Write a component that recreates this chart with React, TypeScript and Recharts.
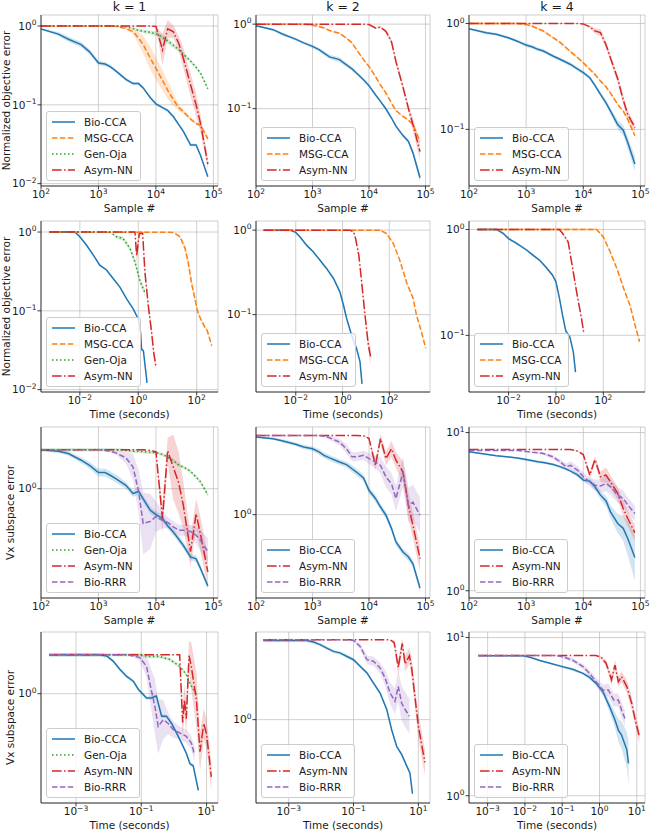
import React from 'react';
import { ComposedChart, Line, Area, XAxis, YAxis, CartesianGrid, Legend } from 'recharts';

const FONT = '"DejaVu Sans", "Liberation Sans", sans-serif';

// ---------- sample grid (rows 1 & 3) ----------
const SAMPLES = [100, 200, 300, 500, 700, 1000, 1300, 1600, 2000, 3000, 4000, 5000, 6000, 8000, 10000, 13000, 16000, 20000, 25000, 30000, 40000, 50000, 60000, 80000];
const SAMPLE_TICKS = [100, 1000, 10000, 100000];

// ---------- row 1 : objective vs samples ----------
const r1c1Bio = [0.92, 0.79, 0.68, 0.58, 0.47, 0.34, 0.33, 0.305, 0.27, 0.21, 0.186, 0.186, 0.164, 0.123, 0.103, 0.092, 0.085, 0.071, 0.056, 0.046, 0.031, 0.031, 0.0226, 0.0122];
const r1c1BioSp = [1.02, 1.06, 1.08, 1.08, 1.08, 1.07, 1.06, 1.05, 1.05, 1.05, 1.05, 1.05, 1.05, 1.04, 1.04, 1.04, 1.04, 1.04, 1.04, 1.04, 1.04, 1.04, 1.04, 1.04];
const r1c1Msg = [1, 1, 1, 1, 1, 1, 1, 1, 0.99, 0.93, 0.85, 0.7, 0.58, 0.39, 0.29, 0.205, 0.153, 0.117, 0.092, 0.082, 0.066, 0.058, 0.055, 0.037];
const r1c1MsgSp = [1, 1, 1, 1, 1, 1, 1, 1, 1.01, 1.03, 1.08, 1.2, 1.3, 1.4, 1.4, 1.35, 1.3, 1.2, 1.1, 1.07, 1.05, 1.05, 1.05, 1.08];
const r1c1Oja = [1, 1, 1, 1, 1, 1, 1, 1, 1, 0.98, 0.93, 0.88, 0.86, 0.83, 0.8, 0.72, 0.65, 0.57, 0.5, 0.44, 0.36, 0.3, 0.25, 0.16];
const r1c1OjaSp = [1, 1, 1, 1, 1, 1, 1, 1, 1, 1.01, 1.03, 1.04, 1.05, 1.06, 1.07, 1.08, 1.08, 1.08, 1.07, 1.06, 1.05, 1.05, 1.05, 1.05];
const r1c1Asym = [1, 1, 1, 1, 1, 1, 1, 1, 1, 1, 1, 1, 1, 1, 0.99, 0.5, 0.92, 0.85, 0.6, 0.39, 0.18, 0.1, 0.057, 0.0177];
const r1c1AsymSp = [1, 1, 1, 1, 1, 1, 1, 1, 1, 1, 1, 1, 1, 1, 1.01, 1.6, 1.3, 1.2, 1.25, 1.35, 1.4, 1.4, 1.3, 1.2];

const r1c2Bio = [0.955, 0.86, 0.76, 0.665, 0.6, 0.545, 0.5, 0.455, 0.41, 0.38, 0.33, 0.295, 0.264, 0.22, 0.187, 0.146, 0.122, 0.099, 0.0775, 0.062, 0.048, 0.041, 0.03, 0.0152];
const r1c2BioSp = [1.02, 1.03, 1.04, 1.04, 1.04, 1.05, 1.05, 1.06, 1.06, 1.07, 1.06, 1.05, 1.05, 1.04, 1.04, 1.04, 1.04, 1.04, 1.04, 1.04, 1.05, 1.05, 1.08, 1.12];
const r1c2Msg = [1, 1, 1, 1, 1, 0.97, 0.94, 0.9, 0.84, 0.78, 0.68, 0.6, 0.5, 0.38, 0.316, 0.24, 0.19, 0.153, 0.116, 0.095, 0.081, 0.073, 0.065, 0.041];
const r1c2Asym = [1, 1, 1, 1, 1, 1, 1, 1, 1, 1, 1, 1, 1, 1, 0.99, 0.9, 0.92, 0.82, 0.62, 0.36, 0.18, 0.1, 0.065, 0.031];
const r1c2AsymSp = [1, 1, 1, 1, 1, 1, 1, 1, 1, 1, 1, 1, 1, 1, 1, 1.03, 1.03, 1.05, 1.08, 1.1, 1.1, 1.12, 1.2, 1.25];

const r1c3Bio = [0.89, 0.816, 0.79, 0.73, 0.68, 0.625, 0.6, 0.57, 0.55, 0.49, 0.457, 0.43, 0.41, 0.37, 0.343, 0.307, 0.26, 0.214, 0.178, 0.149, 0.111, 0.098, 0.075, 0.047];
const r1c3BioSp = [1.02, 1.03, 1.03, 1.03, 1.03, 1.04, 1.04, 1.04, 1.04, 1.04, 1.04, 1.04, 1.04, 1.04, 1.04, 1.04, 1.05, 1.05, 1.06, 1.07, 1.1, 1.12, 1.14, 1.18];
const r1c3Msg = [1, 1, 1, 1, 1, 0.98, 0.94, 0.89, 0.85, 0.73, 0.66, 0.59, 0.54, 0.475, 0.425, 0.37, 0.33, 0.286, 0.252, 0.22, 0.172, 0.149, 0.124, 0.087];
const r1c3Asym = [1, 1, 1, 1, 1, 1, 1, 1, 1, 1, 1, 1, 1, 1, 0.99, 0.93, 0.85, 0.82, 0.63, 0.47, 0.3, 0.19, 0.138, 0.104];
const r1c3AsymSp = [1, 1, 1, 1, 1, 1, 1, 1, 1, 1, 1, 1, 1, 1, 1, 1.03, 1.06, 1.08, 1.08, 1.08, 1.1, 1.1, 1.1, 1.1];

// ---------- row 2 : objective vs time ----------
const r2c1BioT = [9e-4, 6.7e-3, 0.01, 0.017, 0.029, 0.048, 0.082, 0.14, 0.235, 0.4, 0.67, 1.0, 1.2, 1.3, 1.5, 2.0];
const r2c1BioY = [1.0, 1.0, 0.87, 0.68, 0.51, 0.38, 0.33, 0.255, 0.2, 0.142, 0.106, 0.079, 0.053, 0.0325, 0.031, 0.0122];
const r2c1MsgT = [9e-4, 15.8, 27, 40, 52, 66, 88, 110, 146, 190, 230, 330];
const r2c1MsgY = [1.0, 0.99, 0.87, 0.62, 0.4, 0.23, 0.14, 0.095, 0.075, 0.062, 0.056, 0.036];
const r2c1MsgSp = [1, 1, 1.05, 1.1, 1.15, 1.15, 1.12, 1.08, 1.06, 1.05, 1.05, 1.05];
const r2c1OjaT = [9e-4, 0.107, 0.18, 0.3, 0.52, 0.77, 1.14, 1.7];
const r2c1OjaY = [1.0, 1.0, 0.87, 0.83, 0.62, 0.42, 0.24, 0.17];
const r2c1OjaSp = [1, 1, 1.05, 1.06, 1.08, 1.1, 1.1, 1.1];
const r2c1AsymT = [9e-4, 0.77, 0.88, 1.08, 1.41, 1.69, 2.2, 2.87, 3.4, 4.0];
const r2c1AsymY = [1.0, 1.0, 0.5, 0.95, 0.97, 0.31, 0.117, 0.053, 0.029, 0.02];
const r2c1AsymSp = [1, 1, 1.3, 1.1, 1.05, 1.15, 1.15, 1.15, 1.15, 1.15];

const r2c2BioT = [4.2e-4, 5.7e-3, 0.01, 0.0153, 0.0295, 0.057, 0.109, 0.21, 0.405, 0.77, 1.1, 1.5, 2.45, 4.0, 5.6, 6.8];
const r2c2BioY = [1.0, 1.0, 0.94, 0.83, 0.66, 0.55, 0.44, 0.35, 0.27, 0.186, 0.129, 0.09, 0.057, 0.0395, 0.0276, 0.0152];
const r2c2MsgT = [4.2e-4, 40, 77, 150, 280, 550, 1050, 1460, 2400, 3600];
const r2c2MsgY = [1.0, 1.0, 0.91, 0.69, 0.44, 0.24, 0.155, 0.098, 0.062, 0.04];
const r2c2AsymT = [4.2e-4, 2.1, 3.0, 3.6, 5.0, 6.6, 9.1, 12.5, 15.8];
const r2c2AsymY = [1.0, 1.0, 0.95, 0.8, 0.5, 0.24, 0.1, 0.045, 0.032];
const r2c2AsymSp = [1, 1, 1.03, 1.05, 1.08, 1.1, 1.12, 1.2, 1.3];

const r2c3BioT = [4.8e-4, 3.1e-3, 0.0059, 0.01, 0.0218, 0.0577, 0.11, 0.21, 0.38, 0.72, 1.0, 1.38, 1.9, 2.6, 3.9, 5.4, 6.7];
const r2c3BioY = [1.0, 1.0, 0.92, 0.82, 0.74, 0.64, 0.57, 0.51, 0.44, 0.37, 0.32, 0.23, 0.155, 0.11, 0.096, 0.07, 0.045];
const r2c3MsgT = [4.8e-4, 52, 100, 192, 370, 710, 1360, 2200, 3400];
const r2c3MsgY = [1.0, 1.0, 0.85, 0.62, 0.43, 0.28, 0.19, 0.124, 0.087];
const r2c3AsymT = [4.8e-4, 1.38, 1.9, 3.3, 4.6, 7.4, 12, 15.2];
const r2c3AsymY = [1.0, 1.0, 0.92, 0.76, 0.49, 0.26, 0.144, 0.104];
const r2c3AsymSp = [1, 1, 1.03, 1.05, 1.06, 1.06, 1.06, 1.06];

// ---------- row 3 : Vx subspace error vs samples ----------
const r3c1Bio = [1.95, 1.9, 1.83, 1.63, 1.49, 1.32, 1.32, 1.26, 1.19, 1.06, 0.92, 0.955, 0.84, 0.69, 0.64, 0.6, 0.53, 0.475, 0.42, 0.377, 0.31, 0.3, 0.253, 0.188];
const r3c1BioSp = [1.02, 1.03, 1.04, 1.05, 1.06, 1.07, 1.07, 1.07, 1.07, 1.06, 1.06, 1.06, 1.06, 1.06, 1.06, 1.06, 1.06, 1.06, 1.06, 1.06, 1.06, 1.06, 1.06, 1.06];
const r3c1Oja = [1.95, 1.95, 1.95, 1.95, 1.95, 1.95, 1.95, 1.95, 1.95, 1.93, 1.9, 1.9, 1.89, 1.87, 1.86, 1.8, 1.72, 1.62, 1.5, 1.45, 1.35, 1.22, 1.12, 0.9];
const r3c1Asym = [1.95, 1.95, 1.95, 1.95, 1.95, 1.95, 1.95, 1.95, 1.95, 1.95, 1.95, 1.95, 1.95, 1.93, 1.88, 0.6, 1.92, 1.45, 1.1, 0.75, 0.34, 0.65, 0.45, 0.24];
const r3c1AsymSp = [1, 1, 1, 1, 1, 1, 1, 1, 1, 1, 1, 1, 1, 1, 1.02, 1.3, 1.25, 1.75, 1.7, 1.5, 1.3, 1.3, 1.35, 1.3];
const r3c1Rrr = [1.95, 1.95, 1.95, 1.95, 1.95, 1.95, 1.93, 1.9, 1.85, 1.7, 1.45, 0.95, 0.55, 0.57, 0.62, 0.58, 0.56, 0.52, 0.49, 0.49, 0.48, 0.45, 0.41, 0.34];
const r3c1RrrSp = [1, 1, 1, 1, 1, 1, 1.01, 1.02, 1.03, 1.1, 1.25, 1.45, 1.7, 1.6, 1.3, 1.15, 1.1, 1.1, 1.1, 1.1, 1.12, 1.15, 1.2, 1.25];

const r3c2Bio = [3.8, 3.69, 3.55, 3.35, 3.2, 3.1, 2.94, 2.77, 2.65, 2.47, 2.36, 2.2, 2.08, 1.88, 1.52, 1.32, 1.14, 0.99, 0.79, 0.625, 0.526, 0.483, 0.43, 0.283];
const r3c2BioSp = [1.02, 1.02, 1.03, 1.03, 1.04, 1.04, 1.05, 1.05, 1.05, 1.05, 1.05, 1.06, 1.06, 1.06, 1.06, 1.06, 1.06, 1.06, 1.06, 1.06, 1.06, 1.06, 1.07, 1.08];
const r3c2Asym = [3.9, 3.9, 3.9, 3.9, 3.9, 3.9, 3.9, 3.9, 3.9, 3.9, 3.9, 3.9, 3.9, 3.88, 3.7, 2.33, 3.7, 2.62, 3.1, 2.55, 2.08, 1.17, 0.83, 0.47];
const r3c2AsymSp = [1, 1, 1, 1, 1, 1, 1, 1, 1, 1, 1, 1, 1, 1, 1.02, 1.1, 1.08, 1.12, 1.15, 1.15, 1.2, 1.25, 1.25, 1.25];
const r3c2Rrr = [3.9, 3.9, 3.9, 3.9, 3.9, 3.9, 3.9, 3.85, 3.75, 3.48, 3.1, 2.7, 2.7, 2.77, 2.62, 2.47, 2.33, 1.91, 1.7, 1.32, 2.08, 1.17, 1.24, 0.99];
const r3c2RrrSp = [1, 1, 1, 1, 1, 1, 1.01, 1.02, 1.04, 1.06, 1.08, 1.08, 1.08, 1.08, 1.1, 1.12, 1.15, 1.2, 1.2, 1.25, 1.3, 1.35, 1.35, 1.35];

const r3c3Bio = [7.55, 7.28, 7.14, 7.0, 6.9, 6.75, 6.63, 6.53, 6.47, 6.28, 6.07, 5.87, 5.7, 5.38, 5.0, 4.93, 4.54, 4.02, 3.69, 3.15, 2.66, 2.48, 2.14, 1.62];
const r3c3BioSp = [1.01, 1.01, 1.01, 1.01, 1.01, 1.02, 1.02, 1.02, 1.02, 1.02, 1.02, 1.02, 1.02, 1.03, 1.03, 1.04, 1.05, 1.06, 1.08, 1.1, 1.15, 1.2, 1.28, 1.4];
const r3c3Asym = [7.8, 7.8, 7.8, 7.8, 7.8, 7.8, 7.8, 7.8, 7.8, 7.8, 7.8, 7.8, 7.8, 7.63, 7.25, 5.38, 6.75, 5.25, 5.38, 4.87, 4.12, 3.31, 2.86, 2.33];
const r3c3AsymSp = [1, 1, 1, 1, 1, 1, 1, 1, 1, 1, 1, 1, 1, 1.01, 1.02, 1.05, 1.05, 1.08, 1.12, 1.1, 1.1, 1.12, 1.12, 1.12];
const r3c3Rrr = [7.7, 7.7, 7.7, 7.7, 7.7, 7.6, 7.5, 7.45, 7.36, 7.0, 6.5, 6.07, 6.2, 5.77, 5.25, 4.87, 4.65, 4.6, 4.76, 4.54, 4.02, 3.83, 3.48, 3.08];
const r3c3RrrSp = [1, 1, 1, 1, 1, 1.01, 1.01, 1.02, 1.02, 1.03, 1.04, 1.05, 1.06, 1.06, 1.06, 1.07, 1.08, 1.1, 1.12, 1.12, 1.12, 1.12, 1.12, 1.12];

// ---------- row 4 : Vx subspace error vs time ----------
const r4c1BioT = [1.5e-4, 5.4e-3, 0.0087, 0.0138, 0.022, 0.035, 0.057, 0.081, 0.145, 0.2, 0.29, 0.42, 0.59, 0.85, 1.2, 1.7, 2.4, 3.1, 3.9, 5.6];
const r4c1BioY = [1.95, 1.95, 1.91, 1.75, 1.52, 1.35, 1.24, 1.08, 0.93, 0.93, 0.96, 0.68, 0.68, 0.6, 0.51, 0.43, 0.36, 0.3, 0.29, 0.19];
const r4c1OjaT = [1.5e-4, 0.09, 0.18, 0.37, 0.75, 1.5, 2.4, 3.4, 4.9];
const r4c1OjaY = [1.95, 1.95, 1.89, 1.89, 1.8, 1.6, 1.39, 1.14, 0.99];
const r4c1AsymT = [1.5e-4, 1.5, 1.85, 2.1, 2.4, 2.9, 3.4, 4.9, 6.3, 8.2, 10, 14];
const r4c1AsymY = [1.95, 1.95, 0.61, 0.9, 0.65, 1.92, 1.6, 0.9, 0.37, 0.6, 0.5, 0.24];
const r4c1AsymSp = [1, 1, 1.3, 1.3, 1.3, 1.3, 1.5, 1.6, 1.4, 1.3, 1.3, 1.3];
const r4c1RrrT = [1.5e-4, 0.035, 0.057, 0.09, 0.145, 0.2, 0.26, 0.33, 0.47, 0.67, 0.95, 1.5, 2.4, 3.4, 4.3];
const r4c1RrrY = [1.95, 1.95, 1.91, 1.86, 1.6, 1.08, 0.81, 0.57, 0.64, 0.6, 0.54, 0.51, 0.48, 0.43, 0.35];
const r4c1RrrSp = [1, 1, 1.02, 1.05, 1.2, 1.4, 1.6, 1.6, 1.4, 1.2, 1.15, 1.12, 1.12, 1.12, 1.15];

const r4c2BioT = [1.65e-4, 3.6e-3, 5.8e-3, 9.3e-3, 0.0149, 0.024, 0.038, 0.061, 0.1, 0.16, 0.26, 0.41, 0.66, 1.06, 1.5, 2.15, 3.05, 4.4, 5.5, 6.6];
const r4c2BioY = [3.9, 3.9, 3.8, 3.63, 3.42, 3.23, 3.15, 2.97, 2.8, 2.5, 2.23, 1.88, 1.58, 1.19, 0.84, 0.63, 0.55, 0.45, 0.4, 0.28];
const r4c2AsymT = [1.65e-4, 1.34, 1.8, 2.4, 3.2, 3.9, 5.3, 6.2, 7.8, 10, 12.7, 16];
const r4c2AsymY = [3.95, 3.95, 3.75, 2.45, 3.7, 2.6, 3.0, 2.45, 1.5, 0.9, 0.65, 0.48];
const r4c2AsymSp = [1, 1, 1.05, 1.15, 1.1, 1.15, 1.15, 1.2, 1.2, 1.25, 1.25, 1.25];
const r4c2RrrT = [1.65e-4, 0.06, 0.1, 0.16, 0.26, 0.41, 0.66, 0.94, 1.34, 1.9, 2.4, 3.05, 3.9, 5.3];
const r4c2RrrY = [3.95, 3.95, 3.9, 3.52, 2.8, 2.73, 2.43, 2.05, 1.58, 1.37, 1.77, 1.33, 1.19, 1.06];
const r4c2RrrSp = [1, 1, 1.02, 1.05, 1.08, 1.08, 1.1, 1.15, 1.2, 1.25, 1.3, 1.35, 1.35, 1.35];

const r4c3BioT = [5.6e-4, 9e-3, 0.0137, 0.025, 0.047, 0.1, 0.19, 0.36, 0.54, 0.81, 1.23, 1.86, 2.6, 3.2, 3.9, 5.4, 6.0];
const r4c3BioY = [7.66, 7.66, 7.5, 7.15, 6.88, 6.55, 6.3, 5.94, 5.6, 5.13, 4.55, 3.66, 3.01, 2.6, 2.42, 1.95, 1.6];
const r4c3BioSp = [1.01, 1.01, 1.01, 1.01, 1.01, 1.02, 1.02, 1.02, 1.03, 1.03, 1.05, 1.08, 1.12, 1.18, 1.22, 1.3, 1.4];
const r4c3AsymT = [5.6e-4, 0.8, 1.1, 1.5, 2.1, 2.6, 3.2, 3.9, 5.4, 7.3, 9.1, 11.8];
const r4c3AsymY = [7.7, 7.7, 7.5, 6.88, 5.4, 6.7, 5.25, 5.66, 4.9, 3.84, 3.0, 2.36];
const r4c3AsymSp = [1, 1, 1.02, 1.05, 1.08, 1.08, 1.08, 1.08, 1.1, 1.1, 1.1, 1.1];
const r4c3RrrT = [5.6e-4, 0.07, 0.1, 0.19, 0.36, 0.54, 0.81, 1.23, 1.73, 2.4, 3.2, 3.9, 4.8];
const r4c3RrrY = [7.7, 7.7, 7.57, 7.2, 6.55, 5.94, 5.26, 4.66, 4.66, 4.03, 4.03, 3.48, 3.08];
const r4c3RrrSp = [1, 1, 1.02, 1.03, 1.04, 1.05, 1.06, 1.08, 1.1, 1.1, 1.1, 1.12, 1.12];

// ---------- labels ----------
const COL_TITLES = ['k = 1', 'k = 2', 'k = 4'];
const ROW_YLABELS = ['Normalized objective error', 'Normalized objective error', 'Vx subspace error', 'Vx subspace error'];
const ROW_XLABELS = ['Sample #', 'Time (seconds)', 'Sample #', 'Time (seconds)'];

// ---------- styles / layout ----------
const STYLE: Record<string, { color: string; dash?: string }> = {
  'Bio-CCA': { color: '#1f77b4' },
  'MSG-CCA': { color: '#ff7f0e', dash: '5.5 2.4' },
  'Gen-Oja': { color: '#2ca02c', dash: '1.5 2.5' },
  'Asym-NN': { color: '#d62728', dash: '9.6 2.4 1.5 2.4' },
  'Bio-RRR': { color: '#9467bd', dash: '5.5 2.4' },
};
const COL_LEFT = [41, 256, 469];
const COL_W = [177, 174, 176];
const ROW_TOP = [15, 221, 427, 632];
const PH = 171;
const YAX_W = 40;
const TOP_M = 5;
const XAX_H = 30;
const AX = '#262626';

type Pt = { x: number; y: number; band: [number, number] };
function mk(xs: number[], ys: number[], sp?: number[]): Pt[] {
  return xs.map((x, i) => {
    const s = sp ? sp[i] : 1.03;
    return { x, y: ys[i], band: [ys[i] / s, ys[i] * s] as [number, number] };
  });
}
const p10 = (e: number) => Math.pow(10, e);

type Panel = {
  row: number; col: number;
  xDomain: [number, number]; yDomain: [number, number];
  xTicks: number[]; yTicks: number[];
  series: [string, Pt[]][];
};

const SX: [number, number] = [100, p10(5.08)];
const Y_OBJ = [[p10(-2.03), p10(0.14)], [p10(-1.915), p10(0.108)], [p10(-1.535), p10(0.08)]] as [number, number][];
const Y_VX = [[p10(-0.815), p10(0.46)], [p10(-0.622), p10(0.654)], [p10(-0.046), p10(1.035)]] as [number, number][];

const PANELS: Panel[] = [
  { row: 0, col: 0, xDomain: SX, yDomain: Y_OBJ[0], xTicks: SAMPLE_TICKS, yTicks: [0.01, 0.1, 1], series: [
    ['Bio-CCA', mk(SAMPLES, r1c1Bio, r1c1BioSp)], ['MSG-CCA', mk(SAMPLES, r1c1Msg, r1c1MsgSp)],
    ['Gen-Oja', mk(SAMPLES, r1c1Oja, r1c1OjaSp)], ['Asym-NN', mk(SAMPLES, r1c1Asym, r1c1AsymSp)]] },
  { row: 0, col: 1, xDomain: SX, yDomain: Y_OBJ[1], xTicks: SAMPLE_TICKS, yTicks: [0.1, 1], series: [
    ['Bio-CCA', mk(SAMPLES, r1c2Bio, r1c2BioSp)], ['MSG-CCA', mk(SAMPLES, r1c2Msg)], ['Asym-NN', mk(SAMPLES, r1c2Asym, r1c2AsymSp)]] },
  { row: 0, col: 2, xDomain: SX, yDomain: Y_OBJ[2], xTicks: SAMPLE_TICKS, yTicks: [0.1, 1], series: [
    ['Bio-CCA', mk(SAMPLES, r1c3Bio, r1c3BioSp)], ['MSG-CCA', mk(SAMPLES, r1c3Msg)], ['Asym-NN', mk(SAMPLES, r1c3Asym, r1c3AsymSp)]] },
  { row: 1, col: 0, xDomain: [p10(-3.33), p10(2.73)], yDomain: Y_OBJ[0], xTicks: [0.01, 1, 100], yTicks: [0.01, 0.1, 1], series: [
    ['Bio-CCA', mk(r2c1BioT, r2c1BioY)], ['MSG-CCA', mk(r2c1MsgT, r2c1MsgY, r2c1MsgSp)],
    ['Gen-Oja', mk(r2c1OjaT, r2c1OjaY, r2c1OjaSp)], ['Asym-NN', mk(r2c1AsymT, r2c1AsymY, r2c1AsymSp)]] },
  { row: 1, col: 1, xDomain: [p10(-3.7), p10(3.74)], yDomain: Y_OBJ[1], xTicks: [0.01, 1, 100], yTicks: [0.1, 1], series: [
    ['Bio-CCA', mk(r2c2BioT, r2c2BioY)], ['MSG-CCA', mk(r2c2MsgT, r2c2MsgY)], ['Asym-NN', mk(r2c2AsymT, r2c2AsymY, r2c2AsymSp)]] },
  { row: 1, col: 2, xDomain: [p10(-3.67), p10(3.76)], yDomain: Y_OBJ[2], xTicks: [0.01, 1, 100], yTicks: [0.1, 1], series: [
    ['Bio-CCA', mk(r2c3BioT, r2c3BioY)], ['MSG-CCA', mk(r2c3MsgT, r2c3MsgY)], ['Asym-NN', mk(r2c3AsymT, r2c3AsymY, r2c3AsymSp)]] },
  { row: 2, col: 0, xDomain: SX, yDomain: Y_VX[0], xTicks: SAMPLE_TICKS, yTicks: [1], series: [
    ['Bio-CCA', mk(SAMPLES, r3c1Bio, r3c1BioSp)], ['Gen-Oja', mk(SAMPLES, r3c1Oja)],
    ['Asym-NN', mk(SAMPLES, r3c1Asym, r3c1AsymSp)], ['Bio-RRR', mk(SAMPLES, r3c1Rrr, r3c1RrrSp)]] },
  { row: 2, col: 1, xDomain: SX, yDomain: Y_VX[1], xTicks: SAMPLE_TICKS, yTicks: [1], series: [
    ['Bio-CCA', mk(SAMPLES, r3c2Bio, r3c2BioSp)], ['Asym-NN', mk(SAMPLES, r3c2Asym, r3c2AsymSp)], ['Bio-RRR', mk(SAMPLES, r3c2Rrr, r3c2RrrSp)]] },
  { row: 2, col: 2, xDomain: SX, yDomain: Y_VX[2], xTicks: SAMPLE_TICKS, yTicks: [1, 10], series: [
    ['Bio-CCA', mk(SAMPLES, r3c3Bio, r3c3BioSp)], ['Asym-NN', mk(SAMPLES, r3c3Asym, r3c3AsymSp)], ['Bio-RRR', mk(SAMPLES, r3c3Rrr, r3c3RrrSp)]] },
  { row: 3, col: 0, xDomain: [p10(-4.07), p10(1.35)], yDomain: Y_VX[0], xTicks: [0.001, 0.1, 10], yTicks: [1], series: [
    ['Bio-CCA', mk(r4c1BioT, r4c1BioY)], ['Gen-Oja', mk(r4c1OjaT, r4c1OjaY)],
    ['Asym-NN', mk(r4c1AsymT, r4c1AsymY, r4c1AsymSp)], ['Bio-RRR', mk(r4c1RrrT, r4c1RrrY, r4c1RrrSp)]] },
  { row: 3, col: 1, xDomain: [p10(-4.01), p10(1.36)], yDomain: Y_VX[1], xTicks: [0.001, 0.1, 10], yTicks: [1], series: [
    ['Bio-CCA', mk(r4c2BioT, r4c2BioY)], ['Asym-NN', mk(r4c2AsymT, r4c2AsymY, r4c2AsymSp)], ['Bio-RRR', mk(r4c2RrrT, r4c2RrrY, r4c2RrrSp)]] },
  { row: 3, col: 2, xDomain: [p10(-3.5), p10(1.22)], yDomain: Y_VX[2], xTicks: [0.001, 0.01, 0.1, 1, 10], yTicks: [1, 10], series: [
    ['Bio-CCA', mk(r4c3BioT, r4c3BioY, r4c3BioSp)], ['Asym-NN', mk(r4c3AsymT, r4c3AsymY, r4c3AsymSp)], ['Bio-RRR', mk(r4c3RrrT, r4c3RrrY, r4c3RrrSp)]] },
];

function PowTick(props: any) {
  const { x, y, payload, axis } = props;
  const e = Math.round(Math.log10(payload.value));
  const exp = e < 0 ? '\u2212' + -e : String(e);
  const common = { fontFamily: FONT, fontSize: 10.5, fill: '#1a1a1a' };
  if (axis === 'x') {
    return (
      <text x={x} y={y + 6.5} textAnchor="middle" {...common}>
        <tspan>10</tspan>
        <tspan dy={-4.5} fontSize={7.5}>{exp}</tspan>
      </text>
    );
  }
  return (
    <text x={x} y={y + 3.8} textAnchor="end" {...common}>
      <tspan>10</tspan>
      <tspan dy={-4.5} fontSize={7.5}>{exp}</tspan>
    </text>
  );
}

function LegendBox({ names }: { names: string[] }) {
  return (
    <div style={{
      background: 'rgba(255,255,255,0.8)', border: '1px solid #cccccc', borderRadius: 3,
      padding: '2px 6px 2px 5px', fontFamily: FONT, fontSize: 10.5, color: '#1a1a1a', whiteSpace: 'nowrap',
    }}>
      {names.map((n) => {
        const st = STYLE[n];
        return (
          <div key={n} style={{ display: 'flex', alignItems: 'center', height: 16, lineHeight: '16px' }}>
            <svg width={23} height={8} style={{ marginRight: 9, flex: 'none' }}>
              <line x1={0} y1={4} x2={23} y2={4} stroke={st.color} strokeWidth={1.5} strokeDasharray={st.dash} />
            </svg>
            <span>{n}</span>
          </div>
        );
      })}
    </div>
  );
}

function PanelChart({ p }: { p: Panel }) {
  const W = COL_W[p.col];
  const L = COL_LEFT[p.col];
  const T = ROW_TOP[p.row];
  const names = p.series.map((s) => s[0]);
  const legH = names.length * 16 + 6;
  return (
    <div style={{ position: 'absolute', left: L - YAX_W, top: T - TOP_M }}>
      <ComposedChart width={YAX_W + W + 5} height={TOP_M + PH + XAX_H} margin={{ top: TOP_M, right: 5, bottom: 0, left: 0 }}>
        <CartesianGrid stroke="#b0b0b0" strokeOpacity={0.75} strokeWidth={0.8} />
        <XAxis dataKey="x" type="number" scale="log" domain={p.xDomain} allowDataOverflow ticks={p.xTicks} interval={0}
          tick={<PowTick axis="x" />} tickSize={3.5} tickMargin={2} height={XAX_H}
          axisLine={{ stroke: AX, strokeWidth: 0.9 }} tickLine={{ stroke: AX, strokeWidth: 0.9 }} />
        <YAxis type="number" scale="log" domain={p.yDomain} allowDataOverflow ticks={p.yTicks} interval={0}
          tick={<PowTick axis="y" />} tickSize={3.5} tickMargin={1} width={YAX_W}
          axisLine={{ stroke: AX, strokeWidth: 0.9 }} tickLine={{ stroke: AX, strokeWidth: 0.9 }} />
        <XAxis xAxisId="top" orientation="top" type="number" domain={[0, 1]} height={0} tick={false} tickLine={false}
          axisLine={{ stroke: AX, strokeWidth: 0.9 }} />
        <YAxis yAxisId="right" orientation="right" type="number" domain={[0, 1]} width={0} tick={false} tickLine={false}
          axisLine={{ stroke: AX, strokeWidth: 0.9 }} />
        {p.series.map(([name, data]) => (
          <Area key={name + '-band'} data={data} dataKey="band" type="linear" stroke="none" fill={STYLE[name].color}
            fillOpacity={0.2} isAnimationActive={false} dot={false} activeDot={false} legendType="none" />
        ))}
        {p.series.map(([name, data]) => (
          <Line key={name} data={data} dataKey="y" name={name} type="linear" stroke={STYLE[name].color} strokeWidth={1.5}
            strokeDasharray={STYLE[name].dash} dot={false} activeDot={false} isAnimationActive={false} />
        ))}
        <Legend layout="vertical" align="center" verticalAlign="middle"
          wrapperStyle={{ left: YAX_W + 5, top: TOP_M + PH - 5 - legH, width: 'auto', height: 'auto' }}
          content={() => <LegendBox names={names} />} />
      </ComposedChart>
    </div>
  );
}

export default function App() {
  return (
    <div style={{ position: 'absolute', left: 0, top: 0, width: 650, height: 832, background: '#fff', overflow: 'hidden' }}>
      <svg width={650} height={832} style={{ position: 'absolute', left: 0, top: 0 }}>
        {COL_TITLES.map((t, c) => (
          <text key={t} x={COL_LEFT[c] + COL_W[c] / 2} y={11} textAnchor="middle" fontFamily={FONT} fontSize={12.5} fill="#1a1a1a">{t}</text>
        ))}
        {ROW_YLABELS.map((t, r) => {
          const cx = r < 2 ? 9.7 : 14.4;
          const cy = ROW_TOP[r] + PH / 2;
          return (
            <text key={r} x={cx} y={cy} transform={`rotate(-90 ${cx} ${cy})`} textAnchor="middle" fontFamily={FONT} fontSize={10.5} fill="#1a1a1a">{t}</text>
          );
        })}
        {ROW_XLABELS.map((t, r) =>
          COL_LEFT.map((l, c) => (
            <text key={r + '-' + c} x={l + COL_W[c] / 2} y={ROW_TOP[r] + PH + 25.5} textAnchor="middle" fontFamily={FONT} fontSize={10.5} fill="#1a1a1a">{t}</text>
          ))
        )}
      </svg>
      {PANELS.map((p) => (
        <PanelChart key={p.row + '-' + p.col} p={p} />
      ))}
    </div>
  );
}
